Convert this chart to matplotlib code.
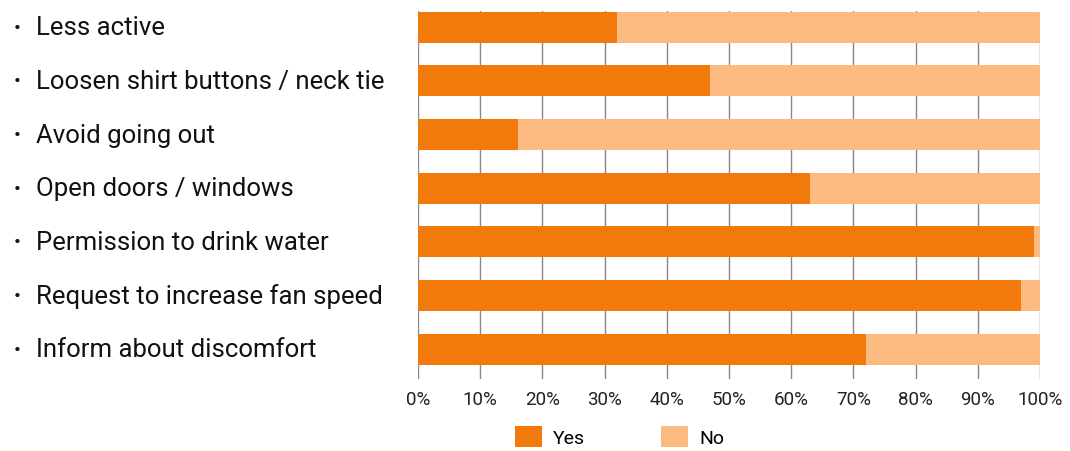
import matplotlib.pyplot as plt
import matplotlib.transforms as mtransforms
import numpy as np

plt.rcParams['font.family'] = ['Roboto', 'DejaVu Sans']

categories = [
    'Less active',
    'Loosen shirt buttons / neck tie',
    'Avoid going out',
    'Open doors / windows',
    'Permission to drink water',
    'Request to increase fan speed',
    'Inform about discomfort',
]
yes_pct = [32, 47, 16, 63, 99, 97, 72]
no_pct = [100 - v for v in yes_pct]
xticks = list(range(0, 101, 10))

yes_color = '#f2790b'
no_color = '#fbbb80'
grid_color = '#8c8589'

fig = plt.figure(figsize=(10.7, 4.52), dpi=100)
ax = fig.add_axes([0.3907, 0.159, 0.5813, 0.814])

y = np.arange(len(categories))
ax.barh(y, yes_pct, height=0.58, color=yes_color, label='Yes', zorder=2)
ax.barh(y, no_pct, left=yes_pct, height=0.58, color=no_color, label='No', zorder=2)

ax.set_xlim(0, 100)
ax.set_ylim(6.56, -0.3)
ax.set_xticks(xticks)
ax.set_xticklabels([f'{t}%' for t in xticks], fontsize=13.5, color='#222222')
ax.set_yticks([])
ax.tick_params(axis='x', length=0, pad=8)
ax.grid(axis='x', color=grid_color, linewidth=1, zorder=0)
ax.set_axisbelow(True)
for s in ax.spines.values():
    s.set_visible(False)

trans = mtransforms.blended_transform_factory(fig.transFigure, ax.transData)
for yi, cat in zip(y, categories):
    ax.text(0.013, yi, '•', transform=trans, fontsize=15, va='center', ha='left', color='#111111')
    ax.text(0.034, yi, cat, transform=trans, fontsize=18.5, va='center', ha='left', color='#111111')

fig.legend(loc='lower center', bbox_to_anchor=(0.579, -0.03), ncol=2, frameon=False,
           fontsize=14, handlelength=1.4, handleheight=1.25, columnspacing=3.9, handletextpad=0.55)

fig.savefig('out.png', dpi=100)
